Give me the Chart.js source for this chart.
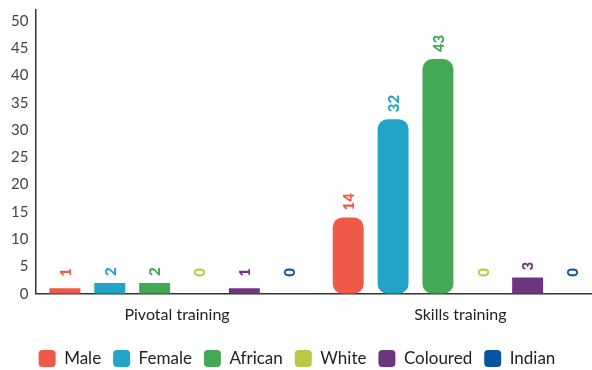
<!DOCTYPE html>
<html>
<head>
<meta charset="utf-8">
<script src="https://cdn.jsdelivr.net/npm/chart.js@4"></script>
<style>
  html, body { margin: 0; padding: 0; background: #fff; overflow: hidden; }
  /* the plot runs a few pixels past the right edge of the page */
  #wrap { width: 604px; height: 370px; }
</style>
</head>
<body>
<div id="wrap"><canvas id="grafica"></canvas></div>
<script>
// ---- data ----
const categorias = ["Pivotal training", "Skills training"];
const grupos = ["Male", "Female", "African", "White", "Coloured", "Indian"];
const colores = ["#EF5A48", "#22A3C8", "#44A955", "#B9C945", "#70357F", "#0A55A3"];
const male = [1, 14];
const female = [2, 32];
const african = [2, 43];
const white = [0, 0];
const coloured = [1, 3];
const indian = [0, 0];
const series = [male, female, african, white, coloured, indian];

const FUENTE = "Lato, 'Open Sans', sans-serif";
const ANCHO_VISIBLE = 592;

// value labels, rotated, above each bar
const etiquetas = {
    id: "etiquetas",
    afterDatasetsDraw(chart) {
        const ctx = chart.ctx;
        const y = chart.scales.y;
        const piso = y.getPixelForValue(3.9);
        ctx.save();
        ctx.font = "900 15px " + FUENTE;
        ctx.textAlign = "center";
        ctx.textBaseline = "middle";
        chart.data.datasets.forEach((ds, i) => {
            chart.getDatasetMeta(i).data.forEach((bar, j) => {
                const txt = String(ds.data[j]);
                const w = ctx.measureText(txt).width;
                const cy = Math.min(bar.y - 7 - w / 2, piso);
                ctx.save();
                ctx.translate(bar.x, cy);
                ctx.rotate(-Math.PI / 2);
                ctx.fillStyle = ds.backgroundColor;
                ctx.fillText(txt, 0, 1);
                ctx.restore();
            });
        });
        ctx.restore();
    }
};

// nudge the legend row: a bit lower and centred on the visible page
const moverLeyenda = {
    id: "moverLeyenda",
    afterLayout(chart) {
        const l = chart.legend;
        const dx = (l.left + l.right) / 2 - (ANCHO_VISIBLE / 2 + 1);
        l.top += 3;
        l.bottom += 3;
        l.left -= dx;
        l.right -= dx;
    }
};

const datasets = grupos.map((g, i) => ({
    label: g,
    data: series[i],
    backgroundColor: colores[i],
    borderWidth: 0,
    borderSkipped: false,
    borderRadius: c => (c.raw >= 10 ? 10 : 0),
    categoryPercentage: 0.95,
    barPercentage: 0.69
}));

new Chart(document.getElementById("grafica"), {
    type: "bar",
    data: { labels: categorias, datasets },
    options: {
        responsive: true,
        maintainAspectRatio: false,
        animation: false,
        layout: { padding: { left: 4, right: 2, top: 10, bottom: -4 } },
        plugins: {
            tooltip: { enabled: false },
            legend: {
                position: "bottom",
                labels: {
                    boxWidth: 17,
                    boxHeight: 17,
                    useBorderRadius: true,
                    borderRadius: 4,
                    padding: 12,
                    color: "#222",
                    font: { family: FUENTE, size: 17 }
                }
            }
        },
        scales: {
            x: {
                grid: { display: false, drawTicks: false },
                border: { display: true, color: "#333", width: 1.5 },
                ticks: { color: "#222", font: { family: FUENTE, size: 16 }, padding: 11 }
            },
            y: {
                min: 0,
                max: 52,
                grid: { display: false, drawTicks: false },
                border: { display: true, color: "#333", width: 1.5 },
                afterFit: s => { s.paddingTop = 0; },
                ticks: {
                    stepSize: 5,
                    includeBounds: false,
                    color: "#444",
                    padding: 7,
                    font: { family: FUENTE, size: 15 }
                }
            }
        }
    },
    plugins: [etiquetas, moverLeyenda]
});
</script>
</body>
</html>
